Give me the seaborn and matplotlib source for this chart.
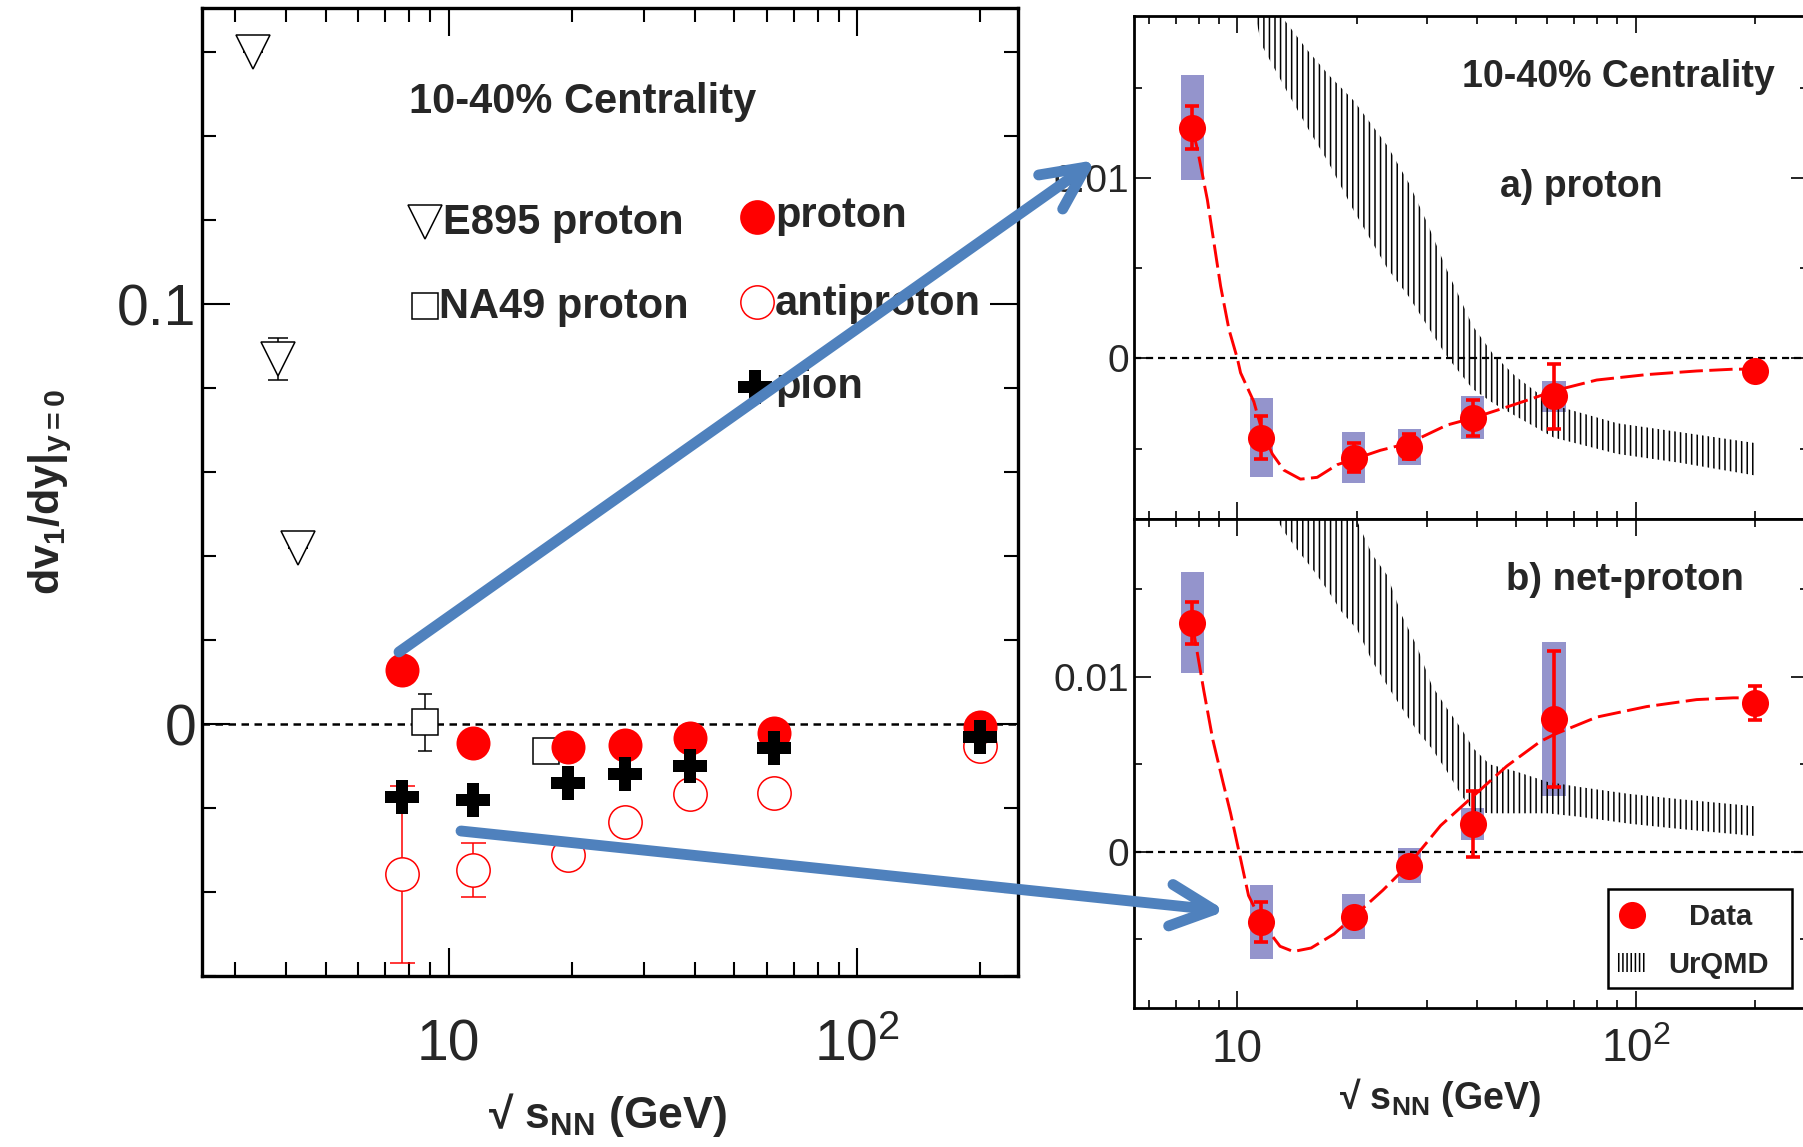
import matplotlib
matplotlib.use("Agg")
import matplotlib.pyplot as plt
import seaborn as sns
from matplotlib.patches import FancyArrowPatch, Rectangle, ArrowStyle
from matplotlib.ticker import FixedLocator, FixedFormatter, NullFormatter

# ------------------------------------------------------------------
# Data
# ------------------------------------------------------------------
# STAR beam-energy-scan energies (GeV)
energies = [7.7, 11.5, 19.6, 27.0, 39.0, 62.4, 200.0]

# left panel: dv1/dy at mid-rapidity
proton_slope = [0.0128, -0.0044, -0.0055, -0.0049, -0.0033, -0.0021, -0.0007]
antiproton_slope = [-0.0358, -0.0347, -0.0311, -0.0234, -0.0166, -0.0164, -0.0053]
antiproton_err = [0.0210, 0.0064, 0.0030, 0.0020, 0.0015, 0.0015, 0.0010]
pion_slope = [-0.0173, -0.0182, -0.0141, -0.0119, -0.0101, -0.0057, -0.0032]

e895_energy = [3.32, 3.83, 4.29]
e895_slope = [0.160, 0.087, 0.042]
e895_err = [0.0, 0.0050, 0.0]

na49_energy = [8.77, 17.3]
na49_slope = [0.0004, -0.0064]
na49_err = [0.0068, 0.0025]

# panel a) proton: statistical and systematic uncertainties
proton_stat = [0.0012, 0.0012, 0.0008, 0.0007, 0.0010, 0.0018, 0.0004]
proton_sys = [0.0029, 0.0022, 0.0014, 0.0010, 0.0012, 0.00085, 0.0]

# panel b) net-proton
net_slope = [0.0131, -0.0040, -0.0037, -0.0008, 0.0016, 0.0076, 0.0085]
net_stat = [0.0012, 0.00115, 0.0005, 0.0005, 0.0019, 0.0039, 0.00095]
net_sys = [0.0029, 0.0021, 0.0013, 0.0010, 0.0009, 0.0044, 0.0]

# smooth fit curves drawn through the data
fit_a_x = [7.7, 7.94, 8.41, 9.08, 9.53, 10.0, 10.19, 11.0, 11.5, 12.24, 13.09,
           14.41, 15.87, 17.81, 19.6, 22.87, 27.0, 33.6, 39.2, 47.5, 55.5,
           62.4, 79.9, 106.6, 142.3, 175.9, 200.0]
fit_a_y = [0.0128, 0.0116, 0.0088, 0.0040, 0.0016, 0.0000, -0.0008, -0.0024,
           -0.0039, -0.0053, -0.0062, -0.0067, -0.0066, -0.0059, -0.0056,
           -0.0051, -0.0047, -0.0037, -0.0033, -0.0027, -0.0022, -0.0018,
           -0.0012, -0.0009, -0.0007, -0.0006, -0.0006]

fit_b_x = [7.7, 8.24, 8.68, 9.2, 9.62, 10.1, 10.67, 11.5, 12.8, 13.82, 15.32,
           17.49, 19.6, 23.19, 27.0, 32.4, 39.2, 47.5, 57.6, 62.4, 79.9,
           106.6, 142.3, 175.9, 200.0]
fit_b_y = [0.0131, 0.0092, 0.0064, 0.0040, 0.0022, 0.0000, -0.0025, -0.0040,
           -0.0054, -0.0057, -0.0055, -0.0047, -0.0037, -0.0022, -0.0007,
           0.0015, 0.0032, 0.0049, 0.0063, 0.0067, 0.0077, 0.0083, 0.0087,
           0.0088, 0.0088]

# UrQMD model bands (lower / upper edge)
urqmd_a_x = [11.1, 11.5, 13.1, 15.0, 17.0, 19.6, 23.8, 27.0, 30.0, 33.6, 39.0,
             44.0, 50.0, 62.4, 90.0, 130.0, 200.0]
urqmd_a_lo = [0.0190, 0.0174, 0.0151, 0.0128, 0.0108, 0.0082, 0.0050, 0.0034,
              0.0018, 0.0001, -0.0017, -0.0025, -0.0032, -0.0044, -0.0053,
              -0.0058, -0.0065]
urqmd_a_hi = [0.0215, 0.0205, 0.0188, 0.0171, 0.0157, 0.0143, 0.0118, 0.0097,
              0.0075, 0.0049, 0.0018, 0.0002, -0.0010, -0.0026, -0.0036,
              -0.0041, -0.0047]

urqmd_b_x = [12.6, 13.0, 14.1, 15.4, 16.8, 18.3, 20.0, 21.8, 23.8, 25.9, 28.3,
             30.8, 33.6, 36.6, 39.2, 43.0, 50.0, 60.0, 72.5, 97.0, 130.0, 200.0]
urqmd_b_lo = [0.0190, 0.0184, 0.0173, 0.0162, 0.0150, 0.0137, 0.0127, 0.0109,
              0.0095, 0.0082, 0.0069, 0.0059, 0.0046, 0.0032, 0.0023, 0.0022,
              0.0022, 0.0022, 0.0020, 0.0016, 0.0013, 0.0009]
urqmd_b_hi = [0.0270, 0.0265, 0.0250, 0.0235, 0.0220, 0.0205, 0.0189, 0.0170,
              0.0158, 0.0135, 0.0117, 0.0095, 0.0082, 0.0070, 0.0059, 0.0050,
              0.0046, 0.0040, 0.0037, 0.0033, 0.0030, 0.0026]

# ------------------------------------------------------------------
# Style
# ------------------------------------------------------------------
sns.set_style("white")
plt.rcParams["font.family"] = ["Liberation Sans", "DejaVu Sans"]
plt.rcParams["mathtext.fontset"] = "custom"
plt.rcParams["mathtext.rm"] = "Liberation Sans:bold"
plt.rcParams["mathtext.bf"] = "Liberation Sans:bold"
plt.rcParams["mathtext.it"] = "Liberation Sans:bold"
plt.rcParams["hatch.linewidth"] = 1.1
plt.rcParams["hatch.color"] = "black"

RED = "#ff0000"
SYS = "#9494cc"
BLUE = "#4f81bd"

W, H = 1803, 1147
fig = plt.figure(figsize=(W / 100, H / 100), dpi=100)


def px_rect(x0, y0, x1, y1):
    """pixel box (origin top-left) -> figure-fraction rectangle"""
    return [x0 / W, 1 - y1 / H, (x1 - x0) / W, (y1 - y0) / H]


ax_l = fig.add_axes(px_rect(201.7, 7.7, 1018, 976.4))
ax_a = fig.add_axes(px_rect(1133.6, 15.9, 1808, 518.8))
ax_b = fig.add_axes(px_rect(1133.6, 519.4, 1808, 1007.5))


def style_axes(ax, spine_lw, tick_w, maj, mnr):
    for s in ax.spines.values():
        s.set_linewidth(spine_lw)
        s.set_color("black")
    ax.tick_params(which="both", direction="in", top=True, right=True,
                   bottom=True, left=True, width=tick_w, color="black")
    ax.tick_params(which="major", length=maj)
    ax.tick_params(which="minor", length=mnr)


# ------------------------------------------------------------------
# Left panel
# ------------------------------------------------------------------
ax_l.set_xscale("log")
ax_l.set_xlim(2.487, 247.4)
ax_l.set_ylim(-0.0601, 0.1706)
style_axes(ax_l, 2.4, 1.5, 20, 10)
ax_l.xaxis.set_major_locator(FixedLocator([10, 100]))
ax_l.xaxis.set_major_formatter(FixedFormatter(["10", r"10$^{\mathdefault{2}}$"]))
ax_l.xaxis.set_minor_locator(FixedLocator([3, 4, 5, 6, 7, 8, 9, 20, 30, 40, 50,
                                           60, 70, 80, 90, 200]))
ax_l.xaxis.set_minor_formatter(NullFormatter())
ax_l.yaxis.set_major_locator(FixedLocator([0.0, 0.1]))
ax_l.yaxis.set_major_formatter(FixedFormatter(["0", "0.1"]))
ax_l.yaxis.set_minor_locator(FixedLocator([-0.06, -0.04, -0.02, 0.02, 0.04,
                                           0.06, 0.08, 0.12, 0.14, 0.16]))
ax_l.tick_params(axis="both", which="major", labelsize=41)
ax_l.tick_params(axis="x", which="major", pad=30)
ax_l.tick_params(axis="y", which="major", pad=4)

ax_l.axhline(0, color="black", lw=1.8, ls=(0, (3, 2.2)), zorder=1)

# E895 and NA49 reference points
ax_l.errorbar(e895_energy, e895_slope, yerr=e895_err, fmt="v", ms=25,
              mfc="white", mec="black", mew=1.1, ecolor="black",
              elinewidth=1.1, capsize=7, capthick=1.1, zorder=3)
ax_l.errorbar(na49_energy, na49_slope, yerr=na49_err, fmt="s", ms=19,
              mfc="white", mec="black", mew=1.1, ecolor="black",
              elinewidth=1.1, capsize=5, capthick=1.1, zorder=3)
# STAR points
ax_l.errorbar(energies, antiproton_slope, yerr=antiproton_err, fmt="o",
              ms=24, mfc="white", mec=RED, mew=1.1, ecolor=RED,
              elinewidth=1.1, capsize=9, capthick=1.1, zorder=4)
sns.scatterplot(x=energies, y=proton_slope, ax=ax_l, marker="o", s=600,
                color=RED, linewidth=0, zorder=5)
sns.scatterplot(x=energies, y=pion_slope, ax=ax_l, marker="P", s=620,
                color="black", linewidth=0, zorder=6)

# legend-style labels inside the panel
tl = ax_l.transAxes
ax_l.text(0.2535, 0.8913, "10-40% Centrality", transform=tl, fontsize=30,
          fontweight="bold", va="baseline")
ax_l.plot([0.2735], [0.7788], transform=tl, marker="v", ms=25, mfc="white",
          mec="black", mew=1.1, ls="none", clip_on=False)
ax_l.text(0.2956, 0.7662, "E895 proton", transform=tl, fontsize=30,
          fontweight="bold", va="baseline")
ax_l.plot([0.2732], [0.6921], transform=tl, marker="s", ms=19, mfc="white",
          mec="black", mew=1.1, ls="none", clip_on=False)
ax_l.text(0.2907, 0.6793, "NA49 proton", transform=tl, fontsize=30,
          fontweight="bold", va="baseline")
ax_l.plot([0.6803], [0.7840], transform=tl, marker="o", ms=25, mfc=RED,
          mec=RED, mew=0, ls="none", clip_on=False)
ax_l.text(0.7023, 0.7740, "proton", transform=tl, fontsize=30,
          fontweight="bold", va="baseline")
ax_l.plot([0.6803], [0.6962], transform=tl, marker="o", ms=24, mfc="white",
          mec=RED, mew=1.1, ls="none", clip_on=False)
ax_l.text(0.7023, 0.6832, "antiproton", transform=tl, fontsize=30,
          fontweight="bold", va="baseline")
ax_l.plot([0.6783], [0.6089], transform=tl, marker="P", ms=25, mfc="black",
          mec="black", mew=0, ls="none", clip_on=False)
ax_l.text(0.7023, 0.5971, "pion", transform=tl, fontsize=30,
          fontweight="bold", va="baseline")

ax_l.set_xlabel("\u221A s$_{NN}$ (GeV)", fontsize=32, fontweight="bold")
ax_l.xaxis.set_label_coords(0.497, -0.118)
ax_l.set_ylabel(r"dv$_{1}$/dy|$_{y=0}$", fontsize=31, fontweight="bold")
ax_l.yaxis.set_label_coords(-0.156, 0.50)

# ------------------------------------------------------------------
# Right panels
# ------------------------------------------------------------------
HALF_W = 0.0289  # half-width of systematic boxes, in decades


def draw_panel(ax, vals, stat, sys_err, fx, fy, bx, blo, bhi):
    ax.set_xscale("log")
    ax.set_xlim(5.49, 271)
    ax.set_ylim(-0.0089, 0.019)
    style_axes(ax, 2.0, 1.2, 12, 6)
    ax.xaxis.set_major_locator(FixedLocator([10, 100]))
    ax.xaxis.set_major_formatter(FixedFormatter(["10", r"10$^{\mathdefault{2}}$"]))
    ax.xaxis.set_minor_locator(FixedLocator([6, 7, 8, 9, 20, 30, 40, 50, 60,
                                             70, 80, 90, 200]))
    ax.xaxis.set_minor_formatter(NullFormatter())
    ax.yaxis.set_major_locator(FixedLocator([0.0, 0.01]))
    ax.yaxis.set_major_formatter(FixedFormatter(["0", "0.01"]))
    ax.yaxis.set_minor_locator(FixedLocator([-0.005, 0.005, 0.015]))
    ax.tick_params(axis="y", which="major", labelsize=28, pad=3)
    ax.tick_params(axis="x", which="major", labelsize=33, pad=15)

    ax.axhline(0, color="black", lw=1.6, ls=(0, (3.2, 2.2)), zorder=2)
    for e, v, s in zip(energies, vals, sys_err):
        if s > 0:
            x0 = e * 10 ** (-HALF_W)
            x1 = e * 10 ** HALF_W
            ax.add_patch(Rectangle((x0, v - s), x1 - x0, 2 * s,
                                   facecolor=SYS, edgecolor="none", zorder=1))
    ax.fill_between(bx, blo, bhi, facecolor="none", edgecolor="black",
                    hatch="|||", linewidth=0, zorder=2.5)
    sns.lineplot(x=fx, y=fy, ax=ax, color=RED, lw=2.1,
                 linestyle=(0, (8, 2.2)), sort=False, estimator=None, zorder=3)
    ax.errorbar(energies, vals, yerr=stat, fmt="none", ecolor=RED,
                elinewidth=2.6, capsize=4.7, capthick=2.6, zorder=5)
    sns.scatterplot(x=energies, y=vals, ax=ax, marker="o", s=380, color=RED,
                    linewidth=0, zorder=6)


draw_panel(ax_a, proton_slope, proton_stat, proton_sys, fit_a_x, fit_a_y,
           urqmd_a_x, urqmd_a_lo, urqmd_a_hi)
draw_panel(ax_b, net_slope, net_stat, net_sys, fit_b_x, fit_b_y,
           urqmd_b_x, urqmd_b_lo, urqmd_b_hi)
ax_a.tick_params(axis="x", which="both", labelbottom=False)

ax_a.text(0.4870, 0.8592, "10-40% Centrality", transform=ax_a.transAxes,
          fontsize=27, fontweight="bold", va="baseline")
ax_a.text(0.5439, 0.6405, "a) proton", transform=ax_a.transAxes,
          fontsize=27, fontweight="bold", va="baseline")
ax_b.text(0.5520, 0.8554, "b) net-proton", transform=ax_b.transAxes,
          fontsize=27.5, fontweight="bold", va="baseline")

ax_b.set_xlabel("\u221A s$_{NN}$ (GeV)", fontsize=27, fontweight="bold")
ax_b.xaxis.set_label_coords(0.454, -0.140)

# legend box of panel b
tb = ax_b.transAxes
ax_b.add_patch(Rectangle((0.7039, 0.0393), 0.2719, 0.2029, transform=tb,
                         facecolor="white", edgecolor="black", lw=1.8,
                         zorder=7))
ax_b.plot([0.7386], [0.1895], transform=tb, marker="o", ms=19.5, mfc=RED,
          mec=RED, mew=0, ls="none", zorder=8)
ax_b.text(0.871, 0.1690, "Data", transform=tb, fontsize=21,
          fontweight="bold", ha="center", va="baseline", zorder=8)
ax_b.add_patch(Rectangle((0.7148, 0.0733), 0.047, 0.0384, transform=tb,
                         facecolor="none", edgecolor="black", hatch="||||",
                         lw=0, zorder=8))
ax_b.text(0.868, 0.0701, "UrQMD", transform=tb, fontsize=21,
          fontweight="bold", ha="center", va="baseline", zorder=8)

# ------------------------------------------------------------------
# Arrows linking the two views
# ------------------------------------------------------------------
def fig_pt(x, y):
    return (x / W, 1 - y / H)


style = ArrowStyle("->", head_length=31, head_width=15)
for start, end in [((399, 652), (1096, 160)), ((461, 831), (1226, 911))]:
    arr = FancyArrowPatch(fig_pt(*start), fig_pt(*end), transform=fig.transFigure,
                          arrowstyle=style, mutation_scale=1, lw=7.8,
                          color=BLUE, capstyle="round", joinstyle="round",
                          shrinkA=0, shrinkB=0, zorder=20)
    fig.add_artist(arr)

fig.savefig("out.png", dpi=100)
